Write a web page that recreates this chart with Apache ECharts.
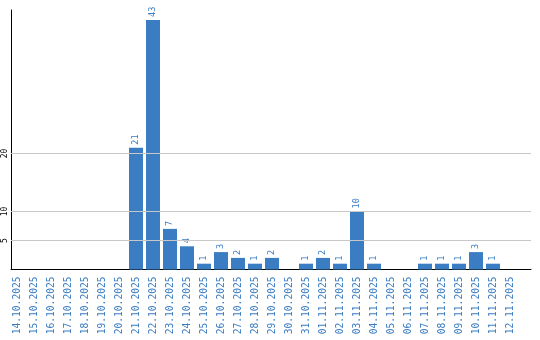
<!DOCTYPE html>
<html>
<head>
<meta charset="utf-8">
<script src="https://cdn.jsdelivr.net/npm/echarts@6/dist/echarts.min.js"></script>
<style>html,body{margin:0;padding:0;background:#fff}#c{width:540px;height:340px}</style>
</head>
<body>
<div id="c"></div>
<script>
const dates = ["14.10.2025","15.10.2025","16.10.2025","17.10.2025","18.10.2025","19.10.2025","20.10.2025","21.10.2025","22.10.2025","23.10.2025","24.10.2025","25.10.2025","26.10.2025","27.10.2025","28.10.2025","29.10.2025","30.10.2025","31.10.2025","01.11.2025","02.11.2025","03.11.2025","04.11.2025","05.11.2025","06.11.2025","07.11.2025","08.11.2025","09.11.2025","10.11.2025","11.11.2025","12.11.2025"];
const counts = [0,0,0,0,0,0,0,21,43,7,4,1,3,2,1,2,0,1,2,1,10,1,0,0,1,1,1,3,1,0];
const yTicks = [5,10,20];

const blue = '#3b7dc3';
const font = 'DejaVu Sans Mono';
const chart = echarts.init(document.getElementById('c'));
chart.setOption({
  animation: false,
  grid: {left: 11, right: 9, top: 10, bottom: 70.5, containLabel: false, outerBoundsMode: 'none'},
  xAxis: {
    type: 'value', min: -0.353, max: 30.235,
    axisLine: {show: true, onZero: false, lineStyle: {color: '#000', width: 1}},
    axisTick: {show: false},
    splitLine: {show: false},
    axisLabel: {
      customValues: dates.map((d, i) => i),
      formatter: v => dates[Math.round(v)] || '',
      rotate: 90, color: blue, fontFamily: font, fontSize: 9.6, margin: 7
    }
  },
  yAxis: {
    type: 'value', min: 0, max: 44.72,
    axisLine: {show: true, onZero: false, lineStyle: {color: '#000', width: 1}},
    axisTick: {show: false},
    splitLine: {show: false},
    axisLabel: {
      customValues: yTicks,
      rotate: 90, color: '#000', fontFamily: font, fontSize: 8, margin: 2
    }
  },
  series: [
    {
      type: 'line', data: [], z: 0, silent: true,
      markLine: {
        silent: true, symbol: 'none', label: {show: false},
        lineStyle: {color: '#c8c8c8', type: 'solid', width: 1},
        data: yTicks.map(v => ({yAxis: v}))
      }
    },
    {
      type: 'bar', z: 3, barWidth: 14,
      data: counts.map((v, i) => [i, v]),
      itemStyle: {color: blue},
      label: {
        show: true, position: 'top', rotate: 90, align: 'left', verticalAlign: 'middle',
        distance: 3, color: blue, fontFamily: font, fontSize: 8.5,
        formatter: p => p.value[1] ? String(p.value[1]) : ''
      }
    }
  ]
});
</script>
</body>
</html>
